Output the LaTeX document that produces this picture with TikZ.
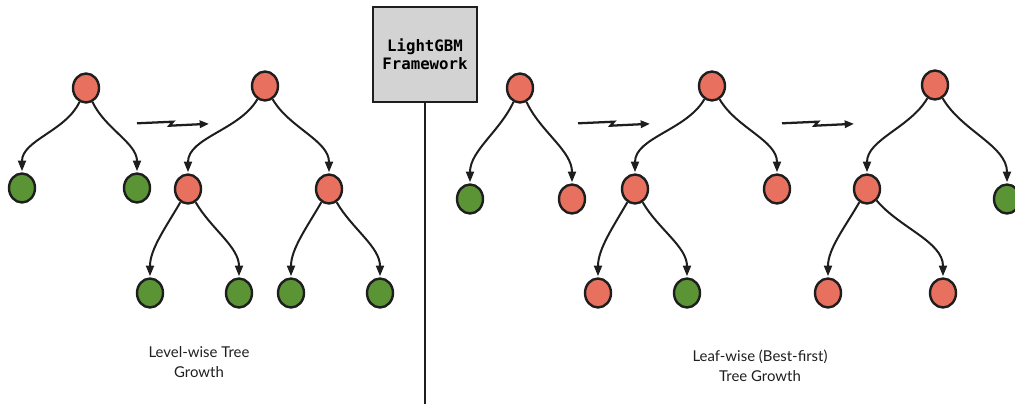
\documentclass[tikz,border=0pt]{standalone}
\usepackage{fontspec}
\setmainfont{Lato}
\newfontfamily\monob{DejaVu Sans Mono}
\usetikzlibrary{arrows.meta,shapes.geometric}
\definecolor{nred}{HTML}{E8705F}
\definecolor{ngreen}{HTML}{5B9435}
\definecolor{ink}{HTML}{1E1E1E}
\definecolor{boxgray}{HTML}{D3D3D3}
\tikzset{
  tn/.style={ellipse,draw=ink,line width=1.8pt,minimum width=26*0.75pt,minimum height=29*0.75pt,inner sep=0pt},
  rn/.style={tn,fill=nred},
  gn/.style={tn,fill=ngreen},
  conn/.style={draw=ink,line width=1.5pt,-{Triangle[length=8pt,width=6pt]},shorten >=0.8pt},
  growarrow/.style={draw=ink,line width=1.7pt,-{Triangle[length=7pt,width=5.5pt]}},
  lbl/.style={font=\fontsize{11.2}{15}\selectfont,align=center,text=black!88}
}
\begin{document}
\begin{tikzpicture}[x=0.75pt,y=-0.75pt]
\useasboundingbox (0,0) rectangle (1015,404);
\clip (0,0) rectangle (1015,404);
% framework box and divider
\node[draw=ink,line width=1.6pt,fill=boxgray,minimum width=104*0.75pt,minimum height=95*0.75pt,inner sep=0pt,align=center,font=\monob\bfseries\fontsize{11.8}{13.5}\selectfont] (fw) at (425,54.5) {LightGBM\\Framework};
\coordinate (bot) at (fw.south |- 0,404);
\draw[ink,line width=1.5pt] (fw.south) -- (bot);
% tree 1
\node[rn] (a0) at (86,88) {};
\node[gn] (a1) at (22,188) {};
\node[gn] (a2) at (137,188) {};
% tree 2
\node[rn] (b0) at (265,86) {};
\node[rn] (b1) at (188,189) {};
\node[rn] (b2) at (329,189) {};
\node[gn] (b3) at (150,293) {};
\node[gn] (b4) at (239,293) {};
\node[gn] (b5) at (291,293) {};
\node[gn] (b6) at (380,293) {};
% tree 3
\node[rn] (c0) at (520,88) {};
\node[gn] (c1) at (470,199) {};
\node[rn] (c2) at (572,199) {};
% tree 4
\node[rn] (d0) at (712,86) {};
\node[rn] (d1) at (635,189) {};
\node[rn] (d2) at (777,189) {};
\node[rn] (d3) at (598,293) {};
\node[gn] (d4) at (687,293) {};
% tree 5
\node[rn] (e0) at (935,85) {};
\node[rn] (e1) at (867,189) {};
\node[gn] (e2) at (1007,199) {};
\node[rn] (e3) at (828,293) {};
\node[rn] (e4) at (943,293) {};
% edges
\foreach \p/\c/\o in {a0/a1/245,a0/a2/295,b0/b1/240,b0/b2/300,b1/b3/240,b1/b4/300,b2/b5/240,b2/b6/300,
  c0/c1/245,c0/c2/295,d0/d1/240,d0/d2/300,d1/d3/240,d1/d4/300,e0/e1/240,e0/e2/300,e1/e3/240,e1/e4/310}{
  \draw[conn] (\p) to[out=\o,in=90,looseness=0.9] (\c.north);
}
% growth arrows
\foreach \n/\x in {1/137,2/578,3/782}{
  \coordinate (s\n) at (\x,123.3);
  \coordinate (t\n) at (\x+72,123.8);
  \draw[growarrow] (s\n) -- ++(36,-1.6) -- ++(-3.5,4) -- (t\n);
}
% labels
\node[lbl] (l1) at (199,362) {Level-wise Tree\\Growth};
\node[lbl] (l2) at (760,366) {Leaf-wise (Best-first)\\Tree Growth};
\end{tikzpicture}
\end{document}
